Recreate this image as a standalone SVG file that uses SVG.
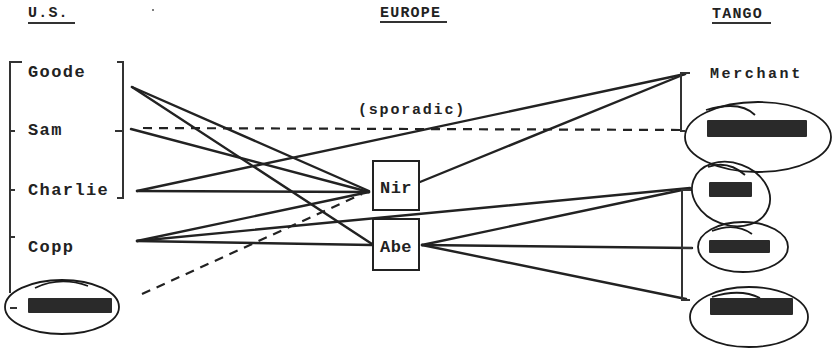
<svg xmlns="http://www.w3.org/2000/svg" width="835" height="348" viewBox="0 0 835 348">
<style>
.t{font-family:"Liberation Mono","DejaVu Sans Mono",monospace;font-weight:bold;fill:#222}
.n{font-size:17px;letter-spacing:1.4px}
.h{font-size:15px;letter-spacing:1.2px}
.m{font-size:15px;letter-spacing:2.6px}
.ln{stroke:#222;stroke-width:2.4;fill:none;stroke-linecap:round}
.ds{stroke:#222;stroke-width:2.2;fill:none;stroke-dasharray:9 7}
.br{stroke:#333;stroke-width:2;fill:none}
.ov{stroke:#1a1a1a;stroke-width:1.8;fill:none}
.bx{stroke:#222;stroke-width:2;fill:#fff}
.rd{fill:#2a2a2a}
</style>
<rect width="835" height="348" fill="#fff"/>
<g id="headings">
<text class="t h" x="28" y="17">U.S.</text>
<line class="br" x1="28" y1="23" x2="75" y2="23"/>
<text class="t h" x="380" y="17">EUROPE</text>
<line class="br" x1="380" y1="22" x2="447" y2="22"/>
<text class="t h" x="712" y="18">TANGO</text>
<line class="br" x1="712" y1="23" x2="771" y2="23"/>
<circle cx="153" cy="10" r="1" fill="#555"/>
</g>
<g id="connectors">
<line class="ds" x1="143" y1="128" x2="683" y2="130"/>
<text class="t m" x="358" y="114" style="letter-spacing:1.8px">(sporadic)</text>
<line class="ln" x1="132" y1="87" x2="369" y2="191"/>
<line class="ln" x1="132" y1="87" x2="372" y2="244"/>
<line class="ln" x1="131" y1="129" x2="369" y2="192"/>
<line class="ln" x1="137" y1="191" x2="369" y2="192"/>
<line class="ln" x1="137" y1="191" x2="685" y2="74"/>
<line class="ln" x1="137" y1="241" x2="369" y2="192"/>
<line class="ln" x1="137" y1="241" x2="690" y2="188"/>
<line class="ln" x1="137" y1="241" x2="372" y2="245"/>
<line class="ds" x1="142" y1="294" x2="362" y2="194"/>
<line class="ln" x1="420" y1="182" x2="685" y2="74"/>
<line class="ln" x1="422" y1="245" x2="682" y2="190"/>
<line class="ln" x1="422" y1="245" x2="692" y2="248"/>
<line class="ln" x1="422" y1="245" x2="686" y2="299"/>
</g>
<g id="us-group">
<path class="br" d="M22 62 H10 V293"/>
<path class="br" d="M10 131 H15 M10 190 H15 M10 237 H15"/>
<path class="br" d="M117 62 H123 V198 H117 M115 131 H123"/>
</g>
<g id="goode"><text class="t n" x="28" y="77">Goode</text></g>
<g id="sam"><text class="t n" x="28" y="135">Sam</text></g>
<g id="charlie"><text class="t n" x="28" y="195">Charlie</text></g>
<g id="copp"><text class="t n" x="28" y="252">Copp</text></g>
<g id="us-redacted">
<ellipse class="ov" cx="62" cy="307" rx="57" ry="27"/>
<path class="ov" d="M35 288 Q60 276 88 286"/>
<line class="br" x1="10" y1="308" x2="17" y2="308"/>
<rect class="rd" x="28" y="298" width="84" height="15" rx="1"/>
</g>
<g id="nir">
<rect class="bx" x="373" y="161" width="46" height="49"/>
<text class="t n" x="396" y="193" text-anchor="middle" style="letter-spacing:0.5px">Nir</text>
</g>
<g id="abe">
<rect class="bx" x="373" y="219" width="46" height="51"/>
<text class="t n" x="396" y="252" text-anchor="middle" style="letter-spacing:0.5px">Abe</text>
</g>
<g id="merchant">
<text class="t m" x="710" y="78">Merchant</text>
<path class="br" d="M690 73 H681 V131 H685"/>
</g>
<g id="tango-bracket">
<path class="br" d="M692 190 H682 V300 H690 M682 248 H692"/>
</g>
<g id="tango-1">
<ellipse class="ov" cx="758" cy="137" rx="73" ry="35"/>
<path class="ov" d="M706 110 Q740 100 755 115"/>
<rect class="rd" x="707" y="120" width="100" height="17" rx="1"/>
</g>
<g id="tango-2">
<ellipse class="ov" cx="731" cy="194" rx="40" ry="31" transform="rotate(20 731 194)"/>
<path class="ov" d="M708 167 Q728 160 745 175"/>
<rect class="rd" x="709" y="182" width="43" height="15" rx="1"/>
</g>
<g id="tango-3">
<ellipse class="ov" cx="743" cy="247" rx="45" ry="25"/>
<path class="ov" d="M712 231 Q735 222 752 234"/>
<rect class="rd" x="709" y="240" width="61" height="13" rx="1"/>
</g>
<g id="tango-4">
<ellipse class="ov" cx="749" cy="317" rx="59" ry="30"/>
<path class="ov" d="M712 297 Q740 288 760 298"/>
<rect class="rd" x="710" y="298" width="83" height="17" rx="1"/>
</g>
</svg>
